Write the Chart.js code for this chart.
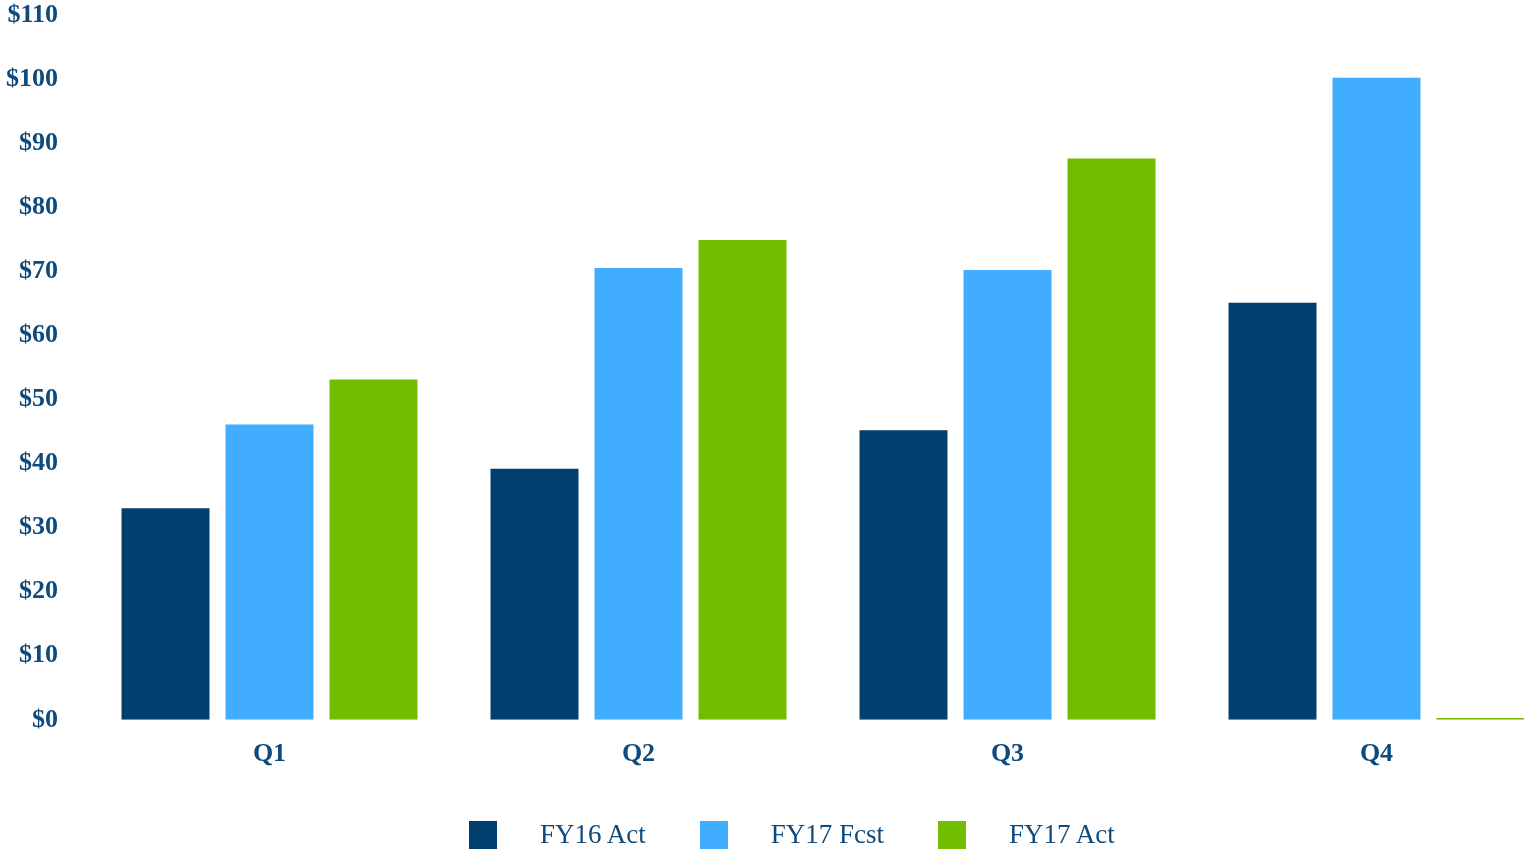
<!DOCTYPE html>
<html>
<head>
<meta charset="utf-8">
<script src="https://cdn.jsdelivr.net/npm/chart.js@4"></script>
<style>
  html, body { margin: 0; padding: 0; background: #fff; }
  #frame { position: relative; width: 1524px; height: 849px; overflow: hidden; }
  #chart { position: absolute; left: 0; top: 0; }
  #legend { position: absolute; left: 469px; top: 819px; display: flex; align-items: center;
            font-family: "Liberation Serif", "Times New Roman", serif; font-size: 27px; color: #0d4a7e; }
  #legend .item { display: flex; align-items: center; margin-right: 54px; }
  #legend .box { width: 28px; height: 28px; margin-right: 43px; }
</style>
</head>
<body>
<div id="frame">
  <canvas id="chart" width="1580" height="849"></canvas>
  <div id="legend"></div>
</div>
<script>
const quarters = ['Q1', 'Q2', 'Q3', 'Q4'];
const fy16Act = [33, 39.2, 45.2, 65.1];
const fy17Fcst = [46.1, 70.5, 70.2, 100.2];
const fy17Act = [53.1, 74.9, 87.6, 0.3];
const seriesNames = ['FY16 Act', 'FY17 Fcst', 'FY17 Act'];
const seriesColors = ['#003f6e', '#40adff', '#72bd00'];
const yMax = 110;
const yStep = 10;

const textColor = '#0d4a7e';
const serif = '"Liberation Serif", "Times New Roman", serif';

const ctx = document.getElementById('chart').getContext('2d');
const chart = new Chart(ctx, {
    type: 'bar',
    data: {
        labels: quarters,
        datasets: [fy16Act, fy17Fcst, fy17Act].map((vals, i) => ({
            label: seriesNames[i],
            data: vals,
            backgroundColor: seriesColors[i],
            borderWidth: 0,
            categoryPercentage: 0.8455,
            barPercentage: 0.846
        }))
    },
    options: {
        responsive: false,
        animation: false,
        devicePixelRatio: 1,
        layout: {
            padding: { top: 2, left: -21, right: 19, bottom: 60 }
        },
        plugins: {
            legend: { display: false },
            tooltip: { enabled: false }
        },
        scales: {
            x: {
                grid: { display: false, drawTicks: false },
                border: { display: false },
                ticks: {
                    color: textColor,
                    padding: 19,
                    font: { family: serif, size: 26, weight: 'bold' }
                }
            },
            y: {
                min: 0,
                max: yMax,
                grid: { display: false, drawTicks: false },
                border: { display: false },
                // tick padding also pads the top, keep only half a label there
                afterFit: s => { s.paddingTop = 15; },
                ticks: {
                    stepSize: yStep,
                    color: textColor,
                    padding: 27,
                    font: { family: serif, size: 26, weight: 'bold' },
                    callback: v => '$' + v
                }
            }
        }
    }
});

// legend built from the datasets
const legendEl = document.getElementById('legend');
chart.data.datasets.forEach(ds => {
    const item = document.createElement('div');
    item.className = 'item';
    const box = document.createElement('div');
    box.className = 'box';
    box.style.background = ds.backgroundColor;
    const txt = document.createElement('span');
    txt.textContent = ds.label;
    item.appendChild(box);
    item.appendChild(txt);
    legendEl.appendChild(item);
});
</script>
</body>
</html>
